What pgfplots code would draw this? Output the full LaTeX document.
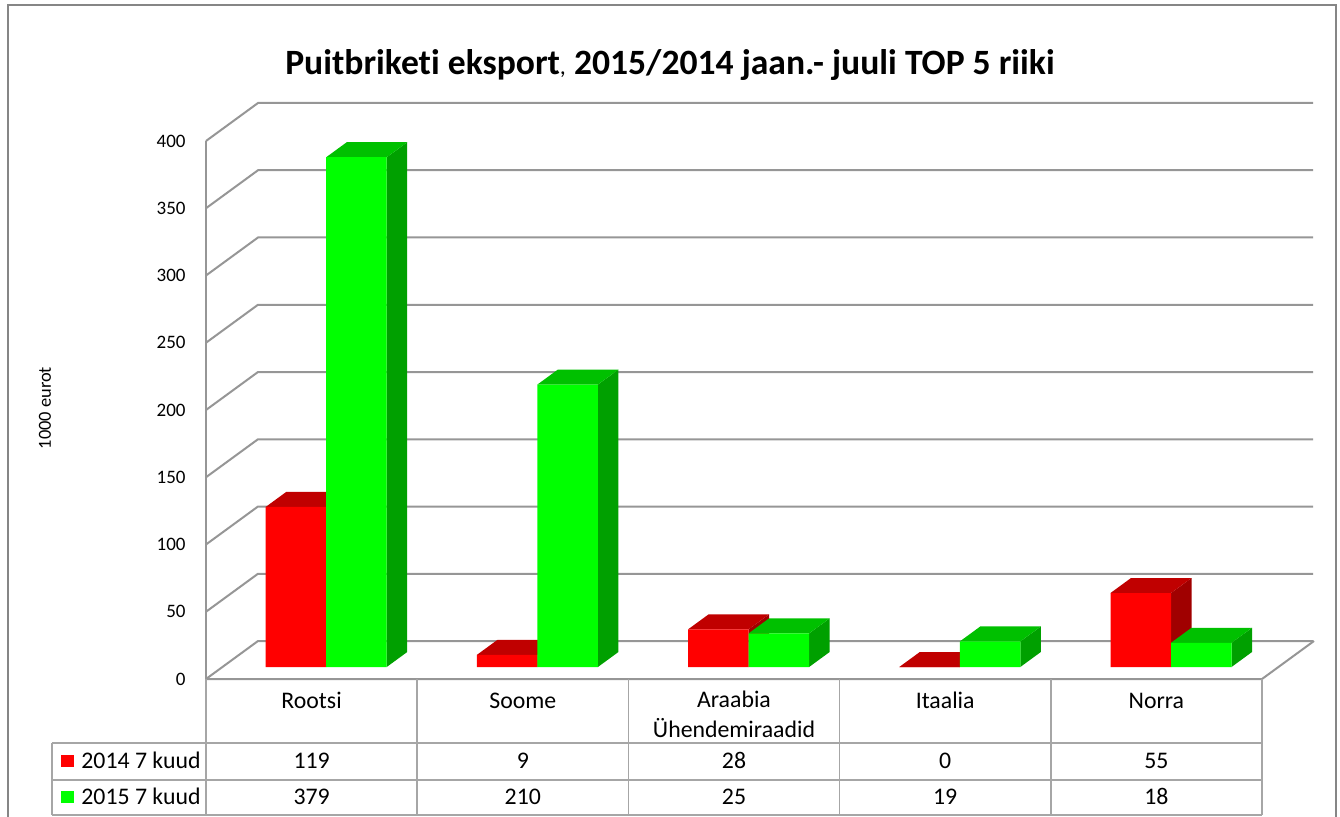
\documentclass[border=0pt]{standalone}
\usepackage{pgfplots}
\pgfplotsset{compat=1.18}
\usepackage{pgfplotstable}
\usepackage{fontspec}
\setmainfont{Carlito}[Ligatures=NoCommon]
\definecolor{redfront}{HTML}{FF0000}
\definecolor{redtop}{HTML}{C00000}
\definecolor{redside}{HTML}{A00000}
\definecolor{greenfront}{HTML}{00FF00}
\definecolor{greentop}{HTML}{00C000}
\definecolor{greenside}{HTML}{00A000}
\definecolor{gridc}{HTML}{969696}
\definecolor{tablec}{HTML}{A6A6A6}
\definecolor{framec}{HTML}{868686}

\pgfplotstableread{
idx a b
0 119 379
1 9 210
2 28 25
3 0 19
4 55 18
}\datatable

\newcommand\bw{0.2865}
\newcommand\ddx{0.0971}
\newcommand\ddy{11.15}

% #1 row, #2 column, #3 left offset within category, #4 colour prefix
\newcommand\barfaces[4]{%
  \pgfplotstablegetelem{#1}{#2}\of\datatable
  \pgfmathsetmacro\tv{\pgfplotsretval}%
  \pgfmathsetmacro\xa{#1+#3}%
  \pgfmathsetmacro\xb{\xa+\bw}%
  \pgfmathsetmacro\xc{\xb+\ddx}%
  \pgfmathsetmacro\xd{\xa+\ddx}%
  \pgfmathsetmacro\tta{\tv+\ddy}%
  \edef\cmd{\noexpand\addplot[fill=#4side, draw=none, forget plot, barpos] coordinates {(\xb,0) (\xc,\ddy) (\xc,\tta) (\xb,\tv)};
    \noexpand\addplot[fill=#4top, draw=none, forget plot, barpos] coordinates {(\xa,\tv) (\xb,\tv) (\xc,\tta) (\xd,\tta)};}%
  \cmd
}

\pgfplotsset{barpos/.style={xshift=7.3pt, yshift=6pt}}

\begin{document}
\begin{tikzpicture}
\begin{axis}[
  x=105.6pt, y=0.6725pt,
  xmin=0, xmax=5, ymin=0, ymax=400,
  enlargelimits=false, clip=false,
  axis line style={draw=none},
  xtick=\empty,
  ytick={0,50,...,400},
  tick style={draw=none},
  major tick length=0pt,
  yticklabel style={anchor=east, inner sep=0pt, xshift=-10pt, font=\fontsize{9.5}{11}\selectfont, text=black},
  /pgf/number format/assume math mode=true,
  scaled y ticks=false,
]
\pgfplotsinvokeforeach{0,50,...,400}{
  \draw[gridc, line width=1pt] (axis cs:0,#1) -- ++(26pt,19pt) -- ++(527.5pt,0pt);
}
\draw[gridc, line width=1pt] (axis cs:0,0) -- (axis cs:0,400);
\draw[gridc, line width=1pt] (axis cs:0,0) -- (axis cs:5,0) -- ++(26pt,19pt);

\pgfplotsinvokeforeach{0,...,4}{\barfaces{#1}{a}{0.2135}{red}}
\addplot[ybar, bar width=30.25pt, bar shift=-15.125pt, fill=redfront, draw=none, barpos]
  table[x expr=\thisrow{idx}+0.5, y=a]{\datatable};
\pgfplotsinvokeforeach{0,...,4}{\barfaces{#1}{b}{0.5}{green}}
\addplot[ybar, bar width=30.25pt, bar shift=15.125pt, fill=greenfront, draw=none, barpos]
  table[x expr=\thisrow{idx}+0.5, y=b]{\datatable};
\end{axis}

\begin{scope}[x=0.5pt, y=-0.5pt, shift={(-103pt,339.5pt)}]
  \draw[framec, line width=0.75pt] (8,830) -- (8,5) -- (1336,5) -- (1336,830);
  \node[anchor=base, font=\bfseries\fontsize{17.8}{20}\selectfont] at (670,75)
    {Puitbriketi eksport{\mdseries\fontsize{12}{14}\selectfont,} 2015/2014 jaan.- juuli TOP 5 riiki};
  \node[rotate=90, font=\fontsize{9.2}{11}\selectfont] at (45,408) {1000 eurot};
  % table
  \begin{scope}[tablec, line width=0.75pt]
    \draw (52,743) -- (1262,743);
    \draw (52,780) -- (1262,780);
    \draw (52,815) -- (1262,815);
    \draw (52,743) -- (52,815);
    \foreach \xx in {206,417.2,628.4,839.6,1050.8,1262} \draw (\xx,679) -- (\xx,815);
  \end{scope}
  \begin{scope}[font=\fontsize{11.9}{14}\selectfont]
    \foreach \cx/\nm in {311.6/Rootsi, 522.8/Soome, 945.2/Itaalia, 1156.4/Norra}
      \node[anchor=base, inner sep=0pt] at (\cx,708) {\nm};
    \node[anchor=base, inner sep=0pt] at (734,707) {Araabia};
    \node[anchor=base, inner sep=0pt] at (734,737) {Ühendemiraadid};
    \foreach \i in {0,...,4} {
      \pgfmathsetmacro\cx{311.6+211.2*\i}
      \pgfplotstablegetelem{\i}{a}\of\datatable
      \node[anchor=base, inner sep=0pt] at (\cx,768) {\pgfplotsretval};
      \pgfplotstablegetelem{\i}{b}\of\datatable
      \node[anchor=base, inner sep=0pt] at (\cx,804) {\pgfplotsretval};
    }
    \fill[redfront] (61,755) rectangle (74,767);
    \node[anchor=base west, inner sep=0pt] at (81,768) {2014 7 kuud};
    \fill[greenfront] (61,791) rectangle (74,803);
    \node[anchor=base west, inner sep=0pt] at (81,804) {2015 7 kuud};
  \end{scope}
\end{scope}
\pgfresetboundingbox
\path[use as bounding box] (-103pt,339.5pt) rectangle (567pt,-68.5pt);
\end{tikzpicture}
\end{document}
